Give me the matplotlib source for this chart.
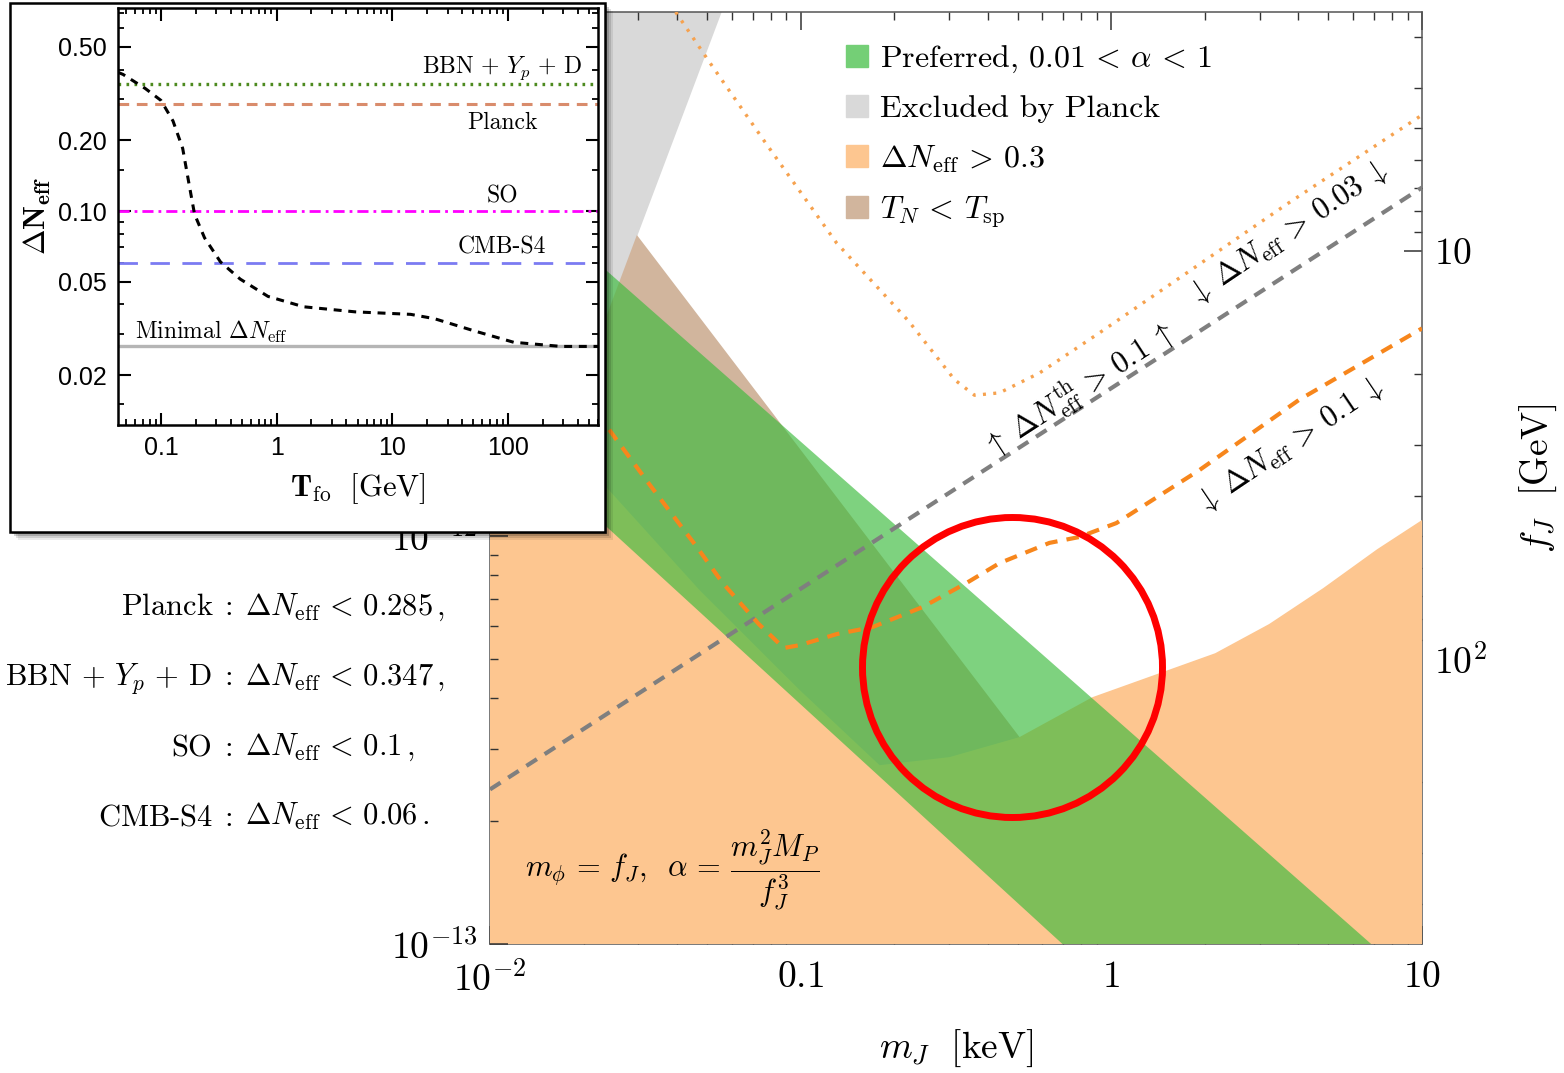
import matplotlib
matplotlib.use('Agg')
import matplotlib.pyplot as plt
from matplotlib.patches import Patch, Rectangle
from matplotlib.ticker import FixedLocator, FixedFormatter, NullFormatter

plt.rcParams['mathtext.fontset'] = 'cm'
plt.rcParams['font.family'] = ['cmr10', 'DejaVu Serif']
plt.rcParams['axes.unicode_minus'] = False

# ---------- main panel data (m_J in keV, f_J in GeV) ----------
planck_m = [0.01, 0.0557, 0.01]
planck_f = [2.6, 2.6, 83.4]

tsp_m = [0.0297, 1.63, 0.01, 0.01]
tsp_f = [9.15, 500, 500, 83.4]

dn03_m = [0.01, 0.0226, 0.0473, 0.0993, 0.1795, 0.301, 0.506, 0.869,
          1.375, 2.16, 3.22, 4.81, 7.17, 10]
dn03_f = [18.5, 36.5, 67.9, 119.3, 182.3, 174.2, 155.6, 124.2,
          109.6, 96.9, 82.2, 67.1, 53.9, 45.7]

band_m = [0.01, 6.86, 0.696, 0.01]
band_f = [6.27, 500, 500, 26.0]

th01_m = [0.01, 10]
th01_f = [209, 7.0]

dn01_m = [0.01, 0.0238, 0.0327, 0.0463, 0.0561, 0.0733, 0.0882, 0.0993,
          0.1306, 0.1704, 0.2468, 0.3418, 0.4364, 0.632, 0.789, 1.038,
          1.919, 4.02, 10]
dn01_f = [11.5, 27.0, 37.5, 53.2, 65.2, 82.2, 94.1, 92.6, 87.0, 83.6,
          74.7, 65.2, 58.3, 52.0, 50.3, 46.5, 34.5, 23.2, 15.5]

dn003_m = [0.0396, 0.0506, 0.0772, 0.1306, 0.2225, 0.3128, 0.3627,
           0.4364, 0.5868, 0.915, 1.654, 3.68, 10]
dn003_f = [2.6, 3.43, 5.45, 9.58, 14.87, 20.7, 22.6, 22.3, 19.94, 15.9,
           11.67, 7.68, 4.65]

# ---------- inset data ----------
T_fo = [0.0425, 0.047, 0.073, 0.1, 0.127, 0.154, 0.174, 0.195, 0.238,
        0.327, 0.484, 0.841, 1.71, 4.77, 14.4, 23.1, 50.7, 112, 288, 600]
dN_fo = [0.39, 0.382, 0.333, 0.296, 0.242, 0.185, 0.132, 0.097, 0.0769,
         0.0607, 0.0513, 0.0433, 0.0391, 0.0372, 0.0363, 0.0348, 0.0309,
         0.0276, 0.0265, 0.0265]
limit_names = ['BBN', 'Planck', 'SO', 'CMB-S4', 'Minimal']
limit_vals = [0.347, 0.285, 0.1, 0.06, 0.0265]

W, H = 1564, 1073
fig = plt.figure(figsize=(W / 100, H / 100), dpi=100)


def fr(x0, y0, x1, y1):
    return [x0 / W, 1 - y1 / H, (x1 - x0) / W, (y1 - y0) / H]


c_grey = '#d9d9d9'
c_tan = '#d1b59d'
c_orange = '#fdc690'
c_green = '#3cbb3d'

ax = fig.add_axes(fr(490, 12, 1422, 944))
ax.set_xscale('log')
ax.set_yscale('log')
axl = ax.twinx()

ax.fill(planck_m, planck_f, color=c_grey, lw=0, zorder=1)
ax.fill(tsp_m, tsp_f, color=c_tan, lw=0, zorder=2)
ax.fill(dn03_m + [10, 0.01], dn03_f + [500, 500], color=c_orange, lw=0, zorder=3)
ax.fill(band_m, band_f, color=c_green, alpha=0.66, lw=0, zorder=4)

ax.plot(th01_m, th01_f, color='#7f7f7f', lw=3, ls=(0, (3, 2.2)), zorder=5)
ax.plot(dn01_m, dn01_f, color='#f7861c', lw=3, ls=(0, (3, 2.2)), zorder=5)
ax.plot(dn003_m, dn003_f, color='#f6a24f', lw=2.4, ls=(0, (0.9, 2.2)), zorder=5)

ax.set_xlim(0.01, 10)
ax.set_ylim(500, 2.6)

ax.text(0.789, 21.96, r'$\uparrow\;\Delta N_{\rm eff}^{\rm th} \,>\, 0.1\;\uparrow$',
        rotation=33, ha='center', va='center', fontsize=22, zorder=6)
ax.text(3.68, 9.05, r'$\downarrow\;\Delta N_{\rm eff} \,>\, 0.03\;\downarrow$',
        rotation=34, ha='center', va='center', fontsize=22, zorder=6)
ax.text(3.74, 29.9, r'$\downarrow\;\Delta N_{\rm eff} \,>\, 0.1\;\downarrow$',
        rotation=34, ha='center', va='center', fontsize=22, zorder=6)

# red circle highlight
ax.plot([0.48], [105], marker='o', ms=216, mfc='none', mec='#ff0000', mew=5,
        zorder=8, clip_on=False)

# ticks main
ax.xaxis.set_major_locator(FixedLocator([0.01, 0.1, 1, 10]))
ax.xaxis.set_major_formatter(FixedFormatter([r'$10^{-2}$', r'$0.1$', r'$1$', r'$10$']))
ax.xaxis.set_minor_locator(FixedLocator([k * d for d in (0.01, 0.1, 1) for k in range(2, 10)]))
ax.xaxis.set_minor_formatter(NullFormatter())
ax.yaxis.tick_right()
ax.yaxis.set_major_locator(FixedLocator([10, 100]))
ax.yaxis.set_major_formatter(FixedFormatter([r'$10$', r'$10^2$']))
ax.yaxis.set_minor_locator(FixedLocator([3, 4, 5, 6, 7, 8, 9, 20, 30, 40, 50, 60, 70, 80, 90,
                                         200, 300, 400]))
ax.yaxis.set_minor_formatter(NullFormatter())
ax.tick_params(which='both', direction='in', top=True, right=True, left=False,
               labelleft=False, labelright=True, color='#333333', labelsize=27)
ax.tick_params(which='major', length=13, width=1.1)
ax.tick_params(which='minor', length=6, width=1.0)
ax.tick_params(axis='x', pad=12)
ax.tick_params(axis='y', pad=9)
ax.yaxis.set_label_position('right')
for s in ax.spines.values():
    s.set_color('#555555')
    s.set_linewidth(1.1)
ax.set_xlabel(r'$m_J\ \ [\mathrm{keV}]$', fontsize=27, labelpad=22)
ax.set_ylabel(r'$f_J\ \ [\mathrm{GeV}]$', fontsize=27, labelpad=22)

axl.yaxis.tick_left()
axl.set_yscale('log')
axl.set_ylim(1e-13, 10 ** -10.716)
axl.yaxis.set_major_locator(FixedLocator([1e-13, 1e-12, 1e-11]))
axl.yaxis.set_major_formatter(FixedFormatter([r'$10^{-13}$', r'$10^{-12}$', '']))
axl.yaxis.set_minor_locator(FixedLocator([k * d for d in (1e-13, 1e-12) for k in range(2, 10)]))
axl.yaxis.set_minor_formatter(NullFormatter())
axl.tick_params(which='both', direction='in', left=True, right=False,
                labelleft=True, labelright=False, color='#333333', labelsize=27, pad=9)
axl.tick_params(which='major', length=13, width=1.1)
axl.tick_params(which='minor', length=6, width=1.0)
for s in axl.spines.values():
    s.set_visible(False)

handles = [Patch(color='#74cf76'), Patch(color=c_grey), Patch(color=c_orange), Patch(color=c_tan)]
labels = [r'Preferred, $0.01 \,<\, \alpha \,<\, 1$', 'Excluded by Planck',
          r'$\Delta N_{\rm eff} \,>\, 0.3$', r'$T_N \,<\, T_{\rm sp}$']
leg = ax.legend(handles, labels, loc='upper left', bbox_to_anchor=(846 / W, 1 - 44 / H),
                bbox_transform=fig.transFigure, frameon=False,
                prop={'family': 'cmr10', 'size': 23}, handlelength=0.7, handleheight=0.7,
                handletextpad=0.35, labelspacing=0.62, borderpad=0, borderaxespad=0)
leg.set_zorder(7)

fig.text(525 / W, 1 - 870 / H,
         r'$m_\phi \,=\, f_J,\;\; \alpha \,=\, \dfrac{m_J^2 M_P}{f_J^3}$',
         fontsize=22, ha='left', va='center')

# constraints on the left
eq_left = [r'$\mathrm{Planck}\;:$', r'$\mathrm{BBN} \,+\, Y_p \,+\, \mathrm{D}\;:$',
           r'$\mathrm{SO}\;:$', r'CMB-S4$\;:$']
eq_right = [r'$\Delta N_{\rm eff} \,<\, 0.285\,,$', r'$\Delta N_{\rm eff} \,<\, 0.347\,,$',
            r'$\Delta N_{\rm eff} \,<\, 0.1\,,$', r'$\Delta N_{\rm eff} \,<\, 0.06\,.$']
for i in range(4):
    yb = 1 - (615 + 70 * i) / H
    fig.text(233 / W, yb, eq_left[i], fontsize=22, ha='right', va='baseline')
    fig.text(245 / W, yb, eq_right[i], fontsize=22, ha='left', va='baseline')

# ---------- inset ----------
for off, a in [(8, 0.08), (6, 0.12), (4, 0.18), (2, 0.25)]:
    fig.add_artist(Rectangle(((10 + off) / W, 1 - (532 + off) / H), 595 / W, 529 / H,
                             transform=fig.transFigure, facecolor='black', alpha=a,
                             lw=0, zorder=4))
fig.add_artist(Rectangle((10 / W, 1 - 532 / H), 595 / W, 529 / H, transform=fig.transFigure,
                         facecolor='white', edgecolor='black', lw=1.8, zorder=5))

axi = fig.add_axes(fr(118, 8, 598, 425))
axi.set_zorder(10)
axi.set_xscale('log')
axi.set_yscale('log')
styles = [dict(color='#4d8a1f', lw=2.4, ls=(0, (0.8, 1.6))),
          dict(color='#d98c6c', lw=2.2, ls=(0, (3.5, 2.5))),
          dict(color='#ff00ff', lw=2.0, ls=(0, (4, 1.8, 1, 1.8))),
          dict(color='#7b7bf2', lw=2.0, ls=(0, (7, 4.5))),
          dict(color='#b5b5b5', lw=2.4, ls='-')]
for v, st in zip(limit_vals, styles):
    axi.axhline(v, **st)
axi.plot(T_fo, dN_fo, color='black', lw=2.2, ls=(0, (2.6, 2.2)))
axi.set_xlim(0.0425, 600)
axi.set_ylim(0.01226, 0.733)

axi.xaxis.set_major_locator(FixedLocator([0.1, 1, 10, 100]))
axi.xaxis.set_major_formatter(FixedFormatter(['0.1', '1', '10', '100']))
axi.xaxis.set_minor_locator(FixedLocator([k * d for d in (0.01, 0.1, 1, 10, 100) for k in range(2, 10)]))
axi.xaxis.set_minor_formatter(NullFormatter())
axi.yaxis.set_major_locator(FixedLocator([0.02, 0.05, 0.1, 0.2, 0.5]))
axi.yaxis.set_major_formatter(FixedFormatter(['0.02', '0.05', '0.10', '0.20', '0.50']))
axi.yaxis.set_minor_locator(FixedLocator([0.015, 0.03, 0.04, 0.06, 0.07, 0.08, 0.09, 0.15,
                                          0.3, 0.4, 0.6, 0.7]))
axi.yaxis.set_minor_formatter(NullFormatter())
axi.tick_params(which='both', direction='in', top=True, right=True, color='black')
axi.tick_params(which='major', length=9, width=1.5, labelsize=18, pad=8)
axi.tick_params(which='minor', length=4.5, width=1.3)
for lab in axi.get_xticklabels() + axi.get_yticklabels():
    lab.set_family('Liberation Sans')
for s in axi.spines.values():
    s.set_linewidth(1.8)

axi.set_xlabel(r'$\mathbf{T}_{\mathrm{fo}}\ \ [\mathrm{GeV}]$', fontsize=22, labelpad=8)
axi.set_ylabel(r'$\mathbf{\Delta N_{eff}}$', fontsize=22, labelpad=4)

axi.text(0.967, 0.856, r'$\mathrm{BBN} \,+\, Y_p \,+\, \mathrm{D}$', transform=axi.transAxes,
         ha='right', va='center', fontsize=17)
axi.text(0.80, 0.724, 'Planck', transform=axi.transAxes, ha='center', va='center', fontsize=17)
axi.text(0.80, 0.547, 'SO', transform=axi.transAxes, ha='center', va='center', fontsize=17)
axi.text(0.80, 0.427, 'CMB-S4', transform=axi.transAxes, ha='center', va='center', fontsize=17)
axi.text(0.035, 0.223, r'Minimal $\Delta N_{\rm eff}$', transform=axi.transAxes, ha='left',
         va='center', fontsize=17)

fig.savefig('out.png', dpi=100)
